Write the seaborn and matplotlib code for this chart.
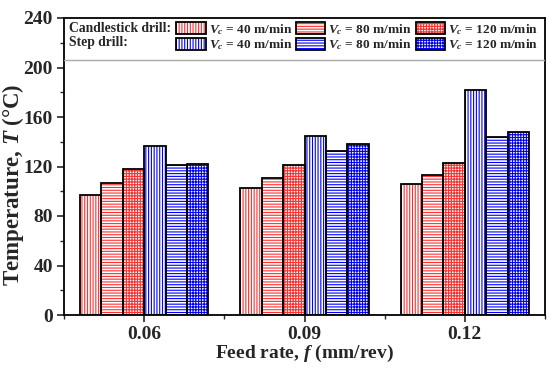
import matplotlib
matplotlib.use("Agg")
import matplotlib.pyplot as plt
import seaborn as sns
import pandas as pd
from matplotlib.patches import Rectangle
from matplotlib.ticker import MultipleLocator, FixedLocator

# ---- data ----
feed_rates = ["0.06", "0.09", "0.12"]
candle_40 = [97, 103, 105.5]
candle_80 = [107, 111, 113.5]
candle_120 = [118, 121.5, 123]
step_40 = [136.5, 145, 181.5]
step_80 = [121, 132.5, 144]
step_120 = [122, 138, 148]
series_names = ["C40", "C80", "C120", "S40", "S80", "S120"]
series_values = [candle_40, candle_80, candle_120, step_40, step_80, step_120]
series_labels = ["$V_c$ = 40 m/min", "$V_c$ = 80 m/min", "$V_c$ = 120 m/min"] * 2
series_colors = ["#ff3030", "#ff3030", "#ff3030", "#0000ff", "#0000ff", "#0000ff"]
series_hatch = ["||||||", "------", "++++++"] * 2

rows = []
for name, vals in zip(series_names, series_values):
    for fr, v in zip(feed_rates, vals):
        rows.append({"feed": fr, "series": name, "T": v})
df = pd.DataFrame(rows)

sns.set_theme(style="white")
plt.rcParams["font.family"] = ["Liberation Serif", "DejaVu Serif"]
plt.rcParams["font.weight"] = "bold"
plt.rcParams["mathtext.fontset"] = "custom"
plt.rcParams["mathtext.rm"] = "Liberation Serif:bold"
plt.rcParams["mathtext.it"] = "Liberation Serif:italic:bold"
plt.rcParams["mathtext.bf"] = "Liberation Serif:bold"
plt.rcParams["hatch.linewidth"] = 0.8

fig = plt.figure(figsize=(5.5, 3.68), dpi=100)
ax = fig.add_axes([64/550, 1-315/368, 481/550, 297/368])

sns.barplot(data=df, x="feed", y="T", hue="series", hue_order=series_names,
            order=feed_rates, width=0.8, ax=ax, legend=False, errorbar=None)

legend_handles = []
for cont, col, hat in zip(ax.containers, series_colors, series_hatch):
    for p in cont.patches:
        p.set_facecolor("white")
        p.set_edgecolor(col)
        p.set_hatch(hat)
        p.set_linewidth(0)
        ax.add_patch(Rectangle(p.get_xy(), p.get_width(), p.get_height(),
                               fill=False, edgecolor="black", linewidth=1.3, zorder=3))
    h1 = Rectangle((0, 0), 1, 1, facecolor="white", edgecolor=col, hatch=hat, linewidth=0)
    h2 = Rectangle((0, 0), 1, 1, fill=False, edgecolor="black", linewidth=1.3)
    legend_handles.append((h1, h2))

ax.set_xlim(-0.5, 2.5)
ax.set_ylim(0, 240)
ax.yaxis.set_major_locator(MultipleLocator(40))
ax.yaxis.set_minor_locator(MultipleLocator(20))
ax.xaxis.set_minor_locator(FixedLocator([-0.5, 0.5, 1.5, 2.5]))

for s in ax.spines.values():
    s.set_visible(True)
    s.set_color("black")
    s.set_linewidth(1.3)

ax.tick_params(axis="both", which="major", direction="out", length=5, width=1.2,
               labelsize=14, bottom=True, left=True, top=False, right=False, pad=3)
ax.tick_params(axis="both", which="minor", direction="out", length=3, width=1.0,
               bottom=True, left=True, top=False, right=False)
for lab in ax.get_xticklabels() + ax.get_yticklabels():
    lab.set_fontweight("bold")

ax.set_xlabel("Feed rate, $f$ (mm/rev)", fontsize=14, fontweight="bold", labelpad=0)
ax.set_ylabel("Temperature, $T$ (°C)", fontsize=16.5, fontweight="bold", va="center")
ax.yaxis.set_label_coords(-0.107, 0.44)

# legend area
ax.axhline(206, color="#aaaaaa", linewidth=1.0, zorder=4)
ax.text(0.011, 0.963, "Candlestick drill:", transform=ax.transAxes, fontsize=9.8,
        fontweight="bold", va="center", ha="left")
ax.text(0.011, 0.919, "Step drill:", transform=ax.transAxes, fontsize=9.8,
        fontweight="bold", va="center", ha="left")

order = [0, 3, 1, 4, 2, 5]
leg = ax.legend([legend_handles[i] for i in order], [series_labels[i] for i in order],
                ncol=3, loc="upper right", bbox_to_anchor=(0.985, 0.987), frameon=False,
                fontsize=9.6, handlelength=2.18, handleheight=0.98, handletextpad=0.23,
                columnspacing=0.3, labelspacing=0.05, borderpad=0, borderaxespad=0)
for t in leg.get_texts():
    t.set_fontweight("bold")

fig.savefig("out.png", dpi=100)
